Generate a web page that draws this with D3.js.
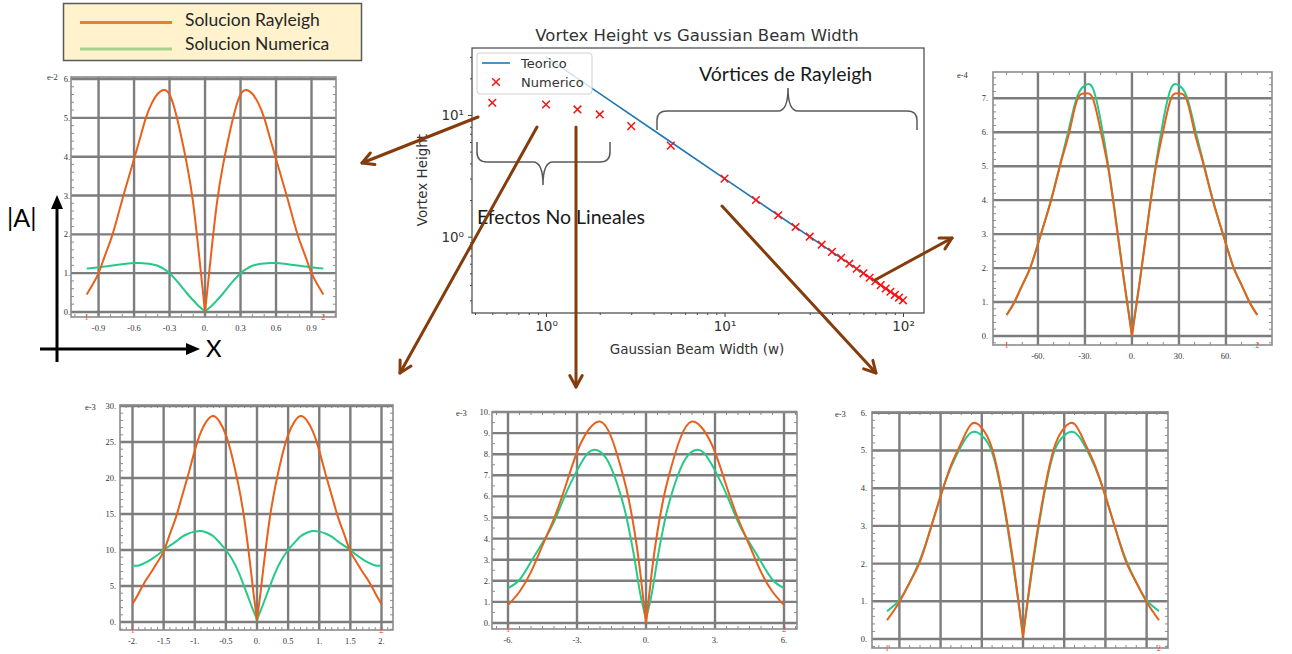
<!DOCTYPE html>
<html>
<head>
<meta charset="utf-8">
<script src="https://cdnjs.cloudflare.com/ajax/libs/d3/7.8.5/d3.min.js"></script>
<style>
  body { margin: 0; background: #fff; }
  svg { display: block; }
</style>
</head>
<body>
<script>
// ---- legend ----
var legendLabels = ["Solucion Rayleigh", "Solucion Numerica"];

// ---- center chart: vortex height vs beam width ----
var beamWidth = [0.5, 1, 1.5, 2, 3, 5, 10, 15, 20, 25, 30, 35, 40, 45, 50, 55, 60, 65, 70, 75, 80, 85, 90, 95, 100];
var numericoHeight = [12.6, 12.2, 11.1, 10.1, 8.1, 5.6, 3.0, 2.0, 1.5, 1.2, 1.0, 0.86, 0.75, 0.67, 0.6, 0.545, 0.5, 0.46, 0.43, 0.4, 0.375, 0.353, 0.333, 0.316, 0.3];
var teoricoWidth = [1, 2, 5, 10, 20, 50, 100];
var teoricoHeight = [30, 15, 6, 3, 1.5, 0.6, 0.3];
var centerXTicks = [1, 10, 100];
var centerYTicks = [1, 10];

// ---- top-left panel (w = 0.5), e-2 ----
var tlX = [-1, -0.95, -0.9, -0.85, -0.8, -0.75, -0.7, -0.65, -0.6, -0.55, -0.5, -0.45, -0.4, -0.35, -0.3, -0.25, -0.2, -0.15, -0.1, -0.05, 0,
           0.05, 0.1, 0.15, 0.2, 0.25, 0.3, 0.35, 0.4, 0.45, 0.5, 0.55, 0.6, 0.65, 0.7, 0.75, 0.8, 0.85, 0.9, 0.95, 1];
var tlRayleigh = [0.45, 0.71, 1.0, 1.42, 1.83, 2.33, 2.89, 3.42, 3.94, 4.47, 5.0, 5.38, 5.62, 5.72, 5.6, 5.15, 4.5, 3.75, 2.8, 1.45, 0,
                  1.45, 2.8, 3.75, 4.5, 5.15, 5.6, 5.72, 5.62, 5.38, 5.0, 4.47, 3.94, 3.42, 2.89, 2.33, 1.83, 1.42, 1.0, 0.71, 0.45];
var tlNumerica = [1.12, 1.13, 1.15, 1.17, 1.19, 1.21, 1.23, 1.25, 1.26, 1.26, 1.25, 1.23, 1.19, 1.11, 1.0, 0.84, 0.66, 0.47, 0.3, 0.14, 0.02,
                  0.14, 0.3, 0.47, 0.66, 0.84, 1.0, 1.11, 1.19, 1.23, 1.25, 1.26, 1.26, 1.25, 1.23, 1.21, 1.19, 1.17, 1.15, 1.13, 1.12];
var tlXTicks = [-0.9, -0.6, -0.3, 0, 0.3, 0.6, 0.9];
var tlXLabels = ["-0.9", "-0.6", "-0.3", "0.", "0.3", "0.6", "0.9"];
var tlYTicks = [0, 1, 2, 3, 4, 5, 6];
var tlYLabels = ["0.", "1.", "2.", "3.", "4.", "5.", "6."];

// ---- right panel (Rayleigh regime), e-4 ----
var rX = [-80, -75, -70, -65, -60, -55, -50, -45, -40, -35, -30, -25, -20, -15, -10, -5, 0,
          5, 10, 15, 20, 25, 30, 35, 40, 45, 50, 55, 60, 65, 70, 75, 80];
var rRayleigh = [0.62, 1.0, 1.5, 2.0, 2.71, 3.46, 4.27, 5.17, 6.0, 6.95, 7.14, 7.0, 6.05, 4.9, 3.3, 1.6, 0,
                 1.6, 3.3, 4.9, 6.05, 7.0, 7.14, 6.95, 6.0, 5.17, 4.27, 3.46, 2.71, 2.0, 1.5, 1.0, 0.62];
var rNumerica = [0.62, 1.0, 1.5, 2.0, 2.72, 3.47, 4.3, 5.22, 6.15, 7.05, 7.38, 7.3, 6.35, 4.98, 3.35, 1.62, 0.05,
                 1.62, 3.35, 4.98, 6.35, 7.3, 7.38, 7.05, 6.15, 5.22, 4.3, 3.47, 2.72, 2.0, 1.5, 1.0, 0.62];
var rXTicks = [-60, -30, 0, 30, 60];
var rXLabels = ["-60.", "-30.", "0.", "30.", "60."];
var rYTicks = [0, 1, 2, 3, 4, 5, 6, 7];
var rYLabels = ["0.", "1.", "2.", "3.", "4.", "5.", "6.", "7."];

// ---- bottom-left panel, e-3 ----
var blX = [-2, -1.9, -1.8, -1.7, -1.6, -1.5, -1.4, -1.3, -1.2, -1.1, -1, -0.9, -0.8, -0.7, -0.6, -0.5, -0.4, -0.3, -0.2, -0.1, -0.05, 0,
           0.05, 0.1, 0.2, 0.3, 0.4, 0.5, 0.6, 0.7, 0.8, 0.9, 1, 1.1, 1.2, 1.3, 1.4, 1.5, 1.6, 1.7, 1.8, 1.9, 2];
var blRayleigh = [2.5, 4.0, 5.6, 6.9, 8.3, 9.8, 12.2, 14.6, 17.6, 20.6, 23.8, 26.4, 28.0, 28.6, 27.8, 26.0, 23.0, 19.1, 14.1, 7.3, 3.6, 0.3,
                  3.6, 7.3, 14.1, 19.1, 23.0, 26.0, 27.8, 28.6, 28.0, 26.4, 23.8, 20.6, 17.6, 14.6, 12.2, 9.8, 8.3, 6.9, 5.6, 4.0, 2.5];
var blNumerica = [7.8, 7.85, 8.2, 8.7, 9.3, 10.0, 10.6, 11.2, 11.85, 12.3, 12.55, 12.65, 12.4, 11.9, 11.0, 10.0, 8.7, 7.0, 4.8, 2.5, 1.4, 0.3,
                  1.4, 2.5, 4.8, 7.0, 8.7, 10.0, 11.0, 11.9, 12.4, 12.65, 12.55, 12.3, 11.85, 11.2, 10.6, 10.0, 9.3, 8.7, 8.2, 7.85, 7.8];
var blXTicks = [-2, -1.5, -1, -0.5, 0, 0.5, 1, 1.5, 2];
var blXLabels = ["-2.", "-1.5", "-1.", "-0.5", "0.", "0.5", "1.", "1.5", "2."];
var blYTicks = [0, 5, 10, 15, 20, 25, 30];
var blYLabels = ["0.", "5.", "10.", "15.", "20.", "25.", "30."];

// ---- bottom-middle panel, e-3 ----
var bmX = [-6, -5.5, -5, -4.5, -4, -3.5, -3, -2.5, -2, -1.5, -1, -0.75, -0.5, -0.25, 0,
           0.25, 0.5, 0.75, 1, 1.5, 2, 2.5, 3, 3.5, 4, 4.5, 5, 5.5, 6];
var bmRayleigh = [0.85, 1.48, 2.42, 3.68, 4.95, 6.48, 8.1, 9.15, 9.55, 8.78, 7.0, 5.85, 4.35, 2.4, 0,
                  2.4, 4.35, 5.85, 7.0, 8.78, 9.55, 9.15, 8.1, 6.48, 4.95, 3.68, 2.42, 1.48, 0.85];
var bmNumerica = [1.65, 2.05, 2.9, 3.8, 4.8, 6.1, 7.22, 8.08, 8.12, 7.32, 5.68, 4.5, 3.05, 1.38, 0.2,
                  1.38, 3.05, 4.5, 5.68, 7.32, 8.12, 8.08, 7.22, 6.1, 4.8, 3.8, 2.9, 2.05, 1.65];
var bmXTicks = [-6, -3, 0, 3, 6];
var bmXLabels = ["-6.", "-3.", "0.", "3.", "6."];
var bmYTicks = [0, 1, 2, 3, 4, 5, 6, 7, 8, 9, 10];
var bmYLabels = ["0.", "1.", "2.", "3.", "4.", "5.", "6.", "7.", "8.", "9.", "10."];

// ---- bottom-right panel, e-3 (x labels fall below the picture) ----
var brX = [-3.3, -3, -2.75, -2.5, -2.25, -2, -1.75, -1.5, -1.25, -1, -0.75, -0.5, -0.25, 0,
           0.25, 0.5, 0.75, 1, 1.25, 1.5, 1.75, 2, 2.25, 2.5, 2.75, 3, 3.3];
var brRayleigh = [0.5, 0.98, 1.5, 2.05, 2.9, 3.79, 4.6, 5.2, 5.7, 5.6, 5.05, 3.82, 2.15, 0.05,
                  2.15, 3.82, 5.05, 5.6, 5.7, 5.2, 4.6, 3.79, 2.9, 2.05, 1.5, 0.98, 0.5];
var brNumerica = [0.74, 1.03, 1.5, 2.1, 2.9, 3.8, 4.55, 5.12, 5.48, 5.4, 4.95, 3.75, 2.05, 0.1,
                  2.05, 3.75, 4.95, 5.4, 5.48, 5.12, 4.55, 3.8, 2.9, 2.1, 1.5, 1.03, 0.74];
var brXTicks = [-3, -2, -1, 0, 1, 2, 3];
var brXLabels = [];
var brYTicks = [0, 1, 2, 3, 4, 5, 6];
var brYLabels = ["0.", "1.", "2.", "3.", "4.", "5.", "6."];

var ORANGE = "#e8601a", GREEN = "#26c987", BROWN = "#843c0c";

var svg = d3.select("body").append("svg")
            .attr("width", 1292)
            .attr("height", 654);

svg.append("rect").attr("width", 1292).attr("height", 654).attr("fill", "#fff");

// ================= CENTER LOG-LOG CHART =================
function centerChart() {
  var margin = {left: 472, right: 924, top: 48, bottom: 313};
  var x = d3.scaleLog().domain([0.3848, 131.1]).range([margin.left, margin.right]);
  var y = d3.scaleLog().domain([0.236, 35.5]).range([margin.bottom, margin.top]);
  var sup = {0: "\u2070", 1: "\u00b9", 2: "\u00b2"};
  var g = svg.append("g").style("font-family", "DejaVu Sans").attr("fill", "#333");

  var minorX = [], minorY = [];
  [-1, 0, 1, 2].forEach(function(k) {
    for (var m = 2; m <= 9; m++) {
      var v = m * Math.pow(10, k);
      if (v > x.domain()[0] && v < x.domain()[1]) minorX.push(v);
      if (v > y.domain()[0] && v < y.domain()[1]) minorY.push(v);
    }
  });

  g.append("g").attr("transform", "translate(0," + margin.bottom + ")")
    .call(d3.axisBottom(x).tickValues(centerXTicks).tickSize(4).tickPadding(4)
      .tickFormat(function(d) { return "10" + sup[Math.round(Math.log10(d))]; }));
  g.append("g").attr("transform", "translate(0," + margin.bottom + ")")
    .call(d3.axisBottom(x).tickValues(minorX).tickSize(2).tickFormat(""));
  g.append("g").attr("transform", "translate(" + margin.left + ",0)")
    .call(d3.axisLeft(y).tickValues(centerYTicks).tickSize(4).tickPadding(4)
      .tickFormat(function(d) { return "10" + sup[Math.round(Math.log10(d))]; }));
  g.append("g").attr("transform", "translate(" + margin.left + ",0)")
    .call(d3.axisLeft(y).tickValues(minorY).tickSize(2).tickFormat(""));
  g.selectAll(".domain").remove();
  g.selectAll(".tick line").attr("stroke", "#444");
  g.selectAll(".tick text").attr("fill", "#333").style("font-size", "13.5px").style("font-family", "DejaVu Sans");

  g.append("rect")
   .attr("x", margin.left).attr("y", margin.top)
   .attr("width", margin.right - margin.left).attr("height", margin.bottom - margin.top)
   .attr("fill", "none").attr("stroke", "#444").attr("stroke-width", 1.2);

  g.append("path")
   .datum(teoricoWidth.map(function(w, i) { return [w, teoricoHeight[i]]; }))
   .attr("d", d3.line().x(function(d) { return x(d[0]); }).y(function(d) { return y(d[1]); }))
   .attr("fill", "none").attr("stroke", "#1f77b4").attr("stroke-width", 1.6);

  var cross = "M-3.8,-3.8L3.8,3.8M-3.8,3.8L3.8,-3.8";
  g.selectAll(".pt").data(beamWidth).join("path")
   .attr("class", "pt")
   .attr("transform", function(d, i) { return "translate(" + x(d) + "," + y(numericoHeight[i]) + ")"; })
   .attr("d", cross).attr("stroke", "#ff1010").attr("stroke-width", 1.5).attr("fill", "none");

  // legend
  var lg = g.append("g");
  lg.append("rect").attr("x", 477).attr("y", 53).attr("width", 115).attr("height", 41).attr("rx", 3)
    .attr("fill", "#fff").attr("fill-opacity", 0.8).attr("stroke", "#d0d0d0");
  lg.append("line").attr("x1", 482).attr("x2", 510).attr("y1", 63).attr("y2", 63)
    .attr("stroke", "#1f77b4").attr("stroke-width", 1.6);
  lg.append("path").attr("transform", "translate(496,82)").attr("d", cross)
    .attr("stroke", "#ff1010").attr("stroke-width", 1.5);
  lg.append("text").attr("x", 521).attr("y", 68).style("font-size", "13px").text("Teorico");
  lg.append("text").attr("x", 521).attr("y", 87).style("font-size", "13px").text("Numerico");

  g.append("text").attr("x", 697).attr("y", 41).attr("text-anchor", "middle")
   .style("font-size", "16.5px").text("Vortex Height vs Gaussian Beam Width");
  g.append("text").attr("x", 697).attr("y", 354).attr("text-anchor", "middle")
   .style("font-size", "13.5px").text("Gaussian Beam Width (w)");
  g.append("text").attr("transform", "translate(427,180) rotate(-90)").attr("text-anchor", "middle")
   .style("font-size", "13.5px").text("Vortex Height");
}

// ================= MAPLE STYLE PANELS =================
function maplePanel(p) {
  var x = d3.scaleLinear().domain(p.xDomain).range([p.left, p.right]);
  var y = d3.scaleLinear().domain(p.yDomain).range([p.bottom, p.top]);
  var g = svg.append("g");

  g.append("rect").attr("x", p.left).attr("y", p.top)
   .attr("width", p.right - p.left).attr("height", p.bottom - p.top).attr("fill", "#fff");

  function minorRange(dom, step) {
    var start = Math.ceil(dom[0] / step) * step;
    return d3.range(start, dom[1], step);
  }
  var mx = minorRange(p.xDomain, p.xMinor);
  var my = minorRange(p.yDomain, p.yMinor);
  [p.bottom, p.top].forEach(function(edge, k) {
    g.selectAll(null).data(mx).join("line")
     .attr("x1", function(d) { return x(d); }).attr("x2", function(d) { return x(d); })
     .attr("y1", edge).attr("y2", k === 0 ? edge - 3 : edge + 3)
     .attr("stroke", "#8c8c8c").attr("stroke-width", 1);
  });
  [p.left, p.right].forEach(function(edge, k) {
    g.selectAll(null).data(my).join("line")
     .attr("y1", function(d) { return y(d); }).attr("y2", function(d) { return y(d); })
     .attr("x1", edge).attr("x2", k === 0 ? edge + 3 : edge - 3)
     .attr("stroke", "#8c8c8c").attr("stroke-width", 1);
  });

  g.selectAll(null).data(p.xTicks).join("line")
   .attr("x1", function(d) { return x(d); }).attr("x2", function(d) { return x(d); })
   .attr("y1", p.top).attr("y2", p.bottom)
   .attr("stroke", "#7d7d7d").attr("stroke-width", 2.4);
  g.selectAll(null).data(p.yTicks).join("line")
   .attr("y1", function(d) { return y(d); }).attr("y2", function(d) { return y(d); })
   .attr("x1", p.left).attr("x2", p.right)
   .attr("stroke", "#7d7d7d").attr("stroke-width", 2.4);

  g.append("rect").attr("x", p.left).attr("y", p.top)
   .attr("width", p.right - p.left).attr("height", p.bottom - p.top)
   .attr("fill", "none").attr("stroke", "#8c8c8c").attr("stroke-width", 1.6);

  var lab = g.append("g").style("font-family", "Liberation Serif").style("font-size", "8.5px").attr("fill", "#333");
  lab.selectAll(null).data(p.xLabels).join("text")
   .attr("x", function(d, i) { return x(p.xTicks[i]); })
   .attr("y", p.bottom + 14).attr("text-anchor", "middle").text(function(d) { return d; });
  lab.selectAll(null).data(p.yLabels).join("text")
   .attr("x", p.left - p.yGap).attr("y", function(d, i) { return y(p.yTicks[i]) + 3; })
   .attr("text-anchor", "end").text(function(d) { return d; });
  lab.append("text").attr("x", p.expPos[0]).attr("y", p.expPos[1]).text(p.exp);

  var line = d3.line().x(function(d) { return x(d[0]); }).y(function(d) { return y(d[1]); })
               .curve(d3.curveNatural);
  [[p.num, GREEN], [p.ray, ORANGE]].forEach(function(s) {
    var pts = p.xs.map(function(v, i) { return [v, s[0][i]]; });
    // draw each half on its own so the cusp at x = 0 stays sharp
    [pts.filter(function(d) { return d[0] <= 0; }), pts.filter(function(d) { return d[0] >= 0; })].forEach(function(half) {
      g.append("path").datum(half).attr("d", line)
       .attr("fill", "none").attr("stroke", s[1]).attr("stroke-width", 2);
    });
  });

  var ends = [p.xs[0], p.xs[p.xs.length - 1]];
  g.selectAll(null).data(["1", "2"]).join("text")
   .attr("x", function(d, i) { return x(ends[i]); }).attr("y", p.bottom + 3)
   .attr("text-anchor", "middle").attr("fill", "#ff4a4a")
   .style("font-family", "Liberation Serif").style("font-size", "8.5px").text(function(d) { return d; });
}

centerChart();

maplePanel({left: 71, right: 336, top: 77, bottom: 317, xDomain: [-1.133, 1.107], yDomain: [-0.129, 6.052],
  xMinor: 0.1, yMinor: 0.2, xTicks: tlXTicks, xLabels: tlXLabels, yTicks: tlYTicks, yLabels: tlYLabels,
  yGap: 1, exp: "e-2", expPos: [47, 80], xs: tlX, ray: tlRayleigh, num: tlNumerica});
maplePanel({left: 993, right: 1272, top: 72, bottom: 345, xDomain: [-88.7, 89.4], yDomain: [-0.265, 7.774],
  xMinor: 10, yMinor: 0.2, xTicks: rXTicks, xLabels: rXLabels, yTicks: rYTicks, yLabels: rYLabels,
  yGap: 5, exp: "e-4", expPos: [957, 78], xs: rX, ray: rRayleigh, num: rNumerica});
maplePanel({left: 120, right: 393, top: 405, bottom: 630, xDomain: [-2.201, 2.185], yDomain: [-1.11, 30.14],
  xMinor: 0.1, yMinor: 1, xTicks: blXTicks, xLabels: blXLabels, yTicks: blYTicks, yLabels: blYLabels,
  yGap: 4, exp: "e-3", expPos: [85, 410], xs: blX, ray: blRayleigh, num: blNumerica});
maplePanel({left: 492, right: 797, top: 412, bottom: 629, xDomain: [-6.696, 6.565], yDomain: [-0.284, 10.0],
  xMinor: 0.5, yMinor: 0.5, xTicks: bmXTicks, xLabels: bmXLabels, yTicks: bmYTicks, yLabels: bmYLabels,
  yGap: 2, exp: "e-3", expPos: [456, 416], xs: bmX, ray: bmRayleigh, num: bmNumerica});
maplePanel({left: 872, right: 1168, top: 412, bottom: 648, xDomain: [-3.665, 3.519], yDomain: [-0.239, 6.021],
  xMinor: 0.25, yMinor: 0.2, xTicks: brXTicks, xLabels: brXLabels, yTicks: brYTicks, yLabels: brYLabels,
  yGap: 5, exp: "e-3", expPos: [835, 417], xs: brX, ray: brRayleigh, num: brNumerica});

// ================= OVERLAYS =================
// top-left legend
var leg = svg.append("g").style("font-family", "Lato").style("font-size", "17.5px");
leg.append("rect").attr("x", 63.5).attr("y", 3.5).attr("width", 298).attr("height", 57)
   .attr("fill", "#fff2cc").attr("stroke", "#595959").attr("stroke-width", 1.5);
leg.selectAll("line").data(legendLabels).join("line")
   .attr("x1", 80).attr("x2", 172)
   .attr("y1", function(d, i) { return 22.5 + i * 26.5; }).attr("y2", function(d, i) { return 22.5 + i * 26.5; })
   .attr("stroke", function(d, i) { return i === 0 ? "#ed7d31" : "#a9d18e"; }).attr("stroke-width", 3);
leg.selectAll("text").data(legendLabels).join("text")
   .attr("x", 185).attr("y", function(d, i) { return 26 + i * 23.5; })
   .attr("fill", "#262626").text(function(d) { return d; });

// annotations
var note = svg.append("g").style("font-family", "Lato").attr("fill", "#1a1a1a");
note.append("text").attr("x", 699).attr("y", 81).style("font-size", "19.5px").text("V\u00f3rtices de Rayleigh");
note.append("text").attr("x", 477).attr("y", 224).style("font-size", "19.5px").text("Efectos No Lineales");
note.append("path")
   .attr("d", "M657,130 L657,120 Q657,111 667,111 L778,111 Q788,111 788,88 Q788,111 798,111 L907,111 Q917,111 917,120 L917,130")
   .attr("fill", "none").attr("stroke", "#595959").attr("stroke-width", 1.5);
note.append("path")
   .attr("d", "M477,142 L477,152 Q477,162 487,162 L533,162 Q543,162 543,185 Q543,162 553,162 L600,162 Q610,162 610,152 L610,142")
   .attr("fill", "none").attr("stroke", "#595959").attr("stroke-width", 1.5);

// |A| vs X axes sketch
var axs = svg.append("g");
axs.append("line").attr("x1", 57).attr("x2", 57).attr("y1", 362).attr("y2", 206).attr("stroke", "#000").attr("stroke-width", 3);
axs.append("path").attr("d", "M57,195 L51,209 L63,209 Z").attr("fill", "#000");
axs.append("line").attr("x1", 40).attr("x2", 188).attr("y1", 349).attr("y2", 349).attr("stroke", "#000").attr("stroke-width", 3);
axs.append("path").attr("d", "M200,349 L186,343 L186,355 Z").attr("fill", "#000");
axs.append("text").attr("x", 7).attr("y", 227).style("font-family", "Lato").style("font-size", "25px").text("|A|");
axs.append("text").attr("x", 206).attr("y", 357).style("font-family", "Lato").style("font-size", "24px").text("X");

// brown arrows
var arrows = [[478, 117, 362, 163], [537, 127, 400, 373], [576, 127, 576, 387], [722, 206, 876, 373], [875, 280, 952, 238]];
var arr = svg.append("g").attr("stroke", BROWN).attr("stroke-width", 3).attr("stroke-linecap", "round").attr("fill", "none");
arrows.forEach(function(a) {
  var ang = Math.atan2(a[3] - a[1], a[2] - a[0]);
  var len = 13, spread = 0.5;
  arr.append("line").attr("x1", a[0]).attr("y1", a[1]).attr("x2", a[2]).attr("y2", a[3]);
  arr.append("path")
     .attr("stroke-linejoin", "round")
     .attr("d", "M" + (a[2] - len * Math.cos(ang - spread)) + "," + (a[3] - len * Math.sin(ang - spread)) +
                "L" + a[2] + "," + a[3] +
                "L" + (a[2] - len * Math.cos(ang + spread)) + "," + (a[3] - len * Math.sin(ang + spread)));
});
</script>
</body>
</html>
